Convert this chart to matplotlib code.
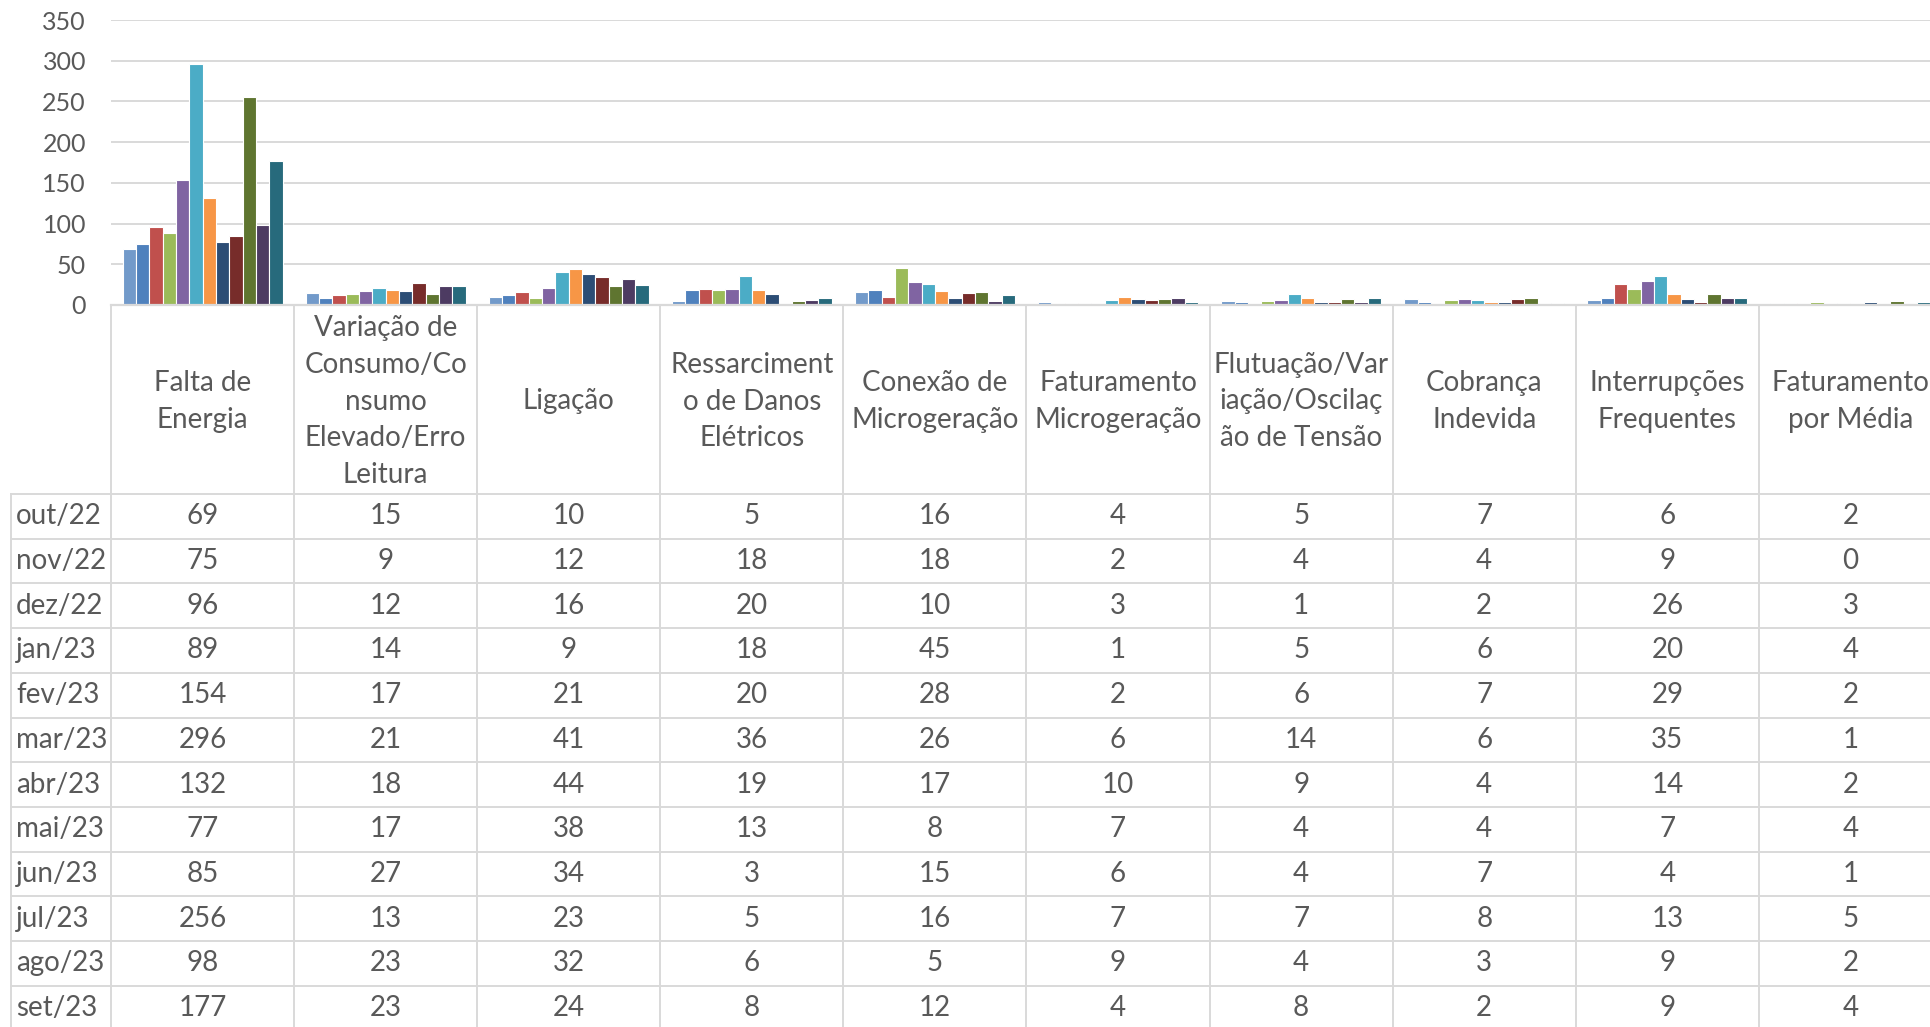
import matplotlib.pyplot as plt
import numpy as np

plt.rcParams['font.family'] = ['Lato', 'DejaVu Sans']

months = ['out/22', 'nov/22', 'dez/22', 'jan/23', 'fev/23', 'mar/23',
          'abr/23', 'mai/23', 'jun/23', 'jul/23', 'ago/23', 'set/23']

categories = ['Falta de\nEnergia',
              'Variação de\nConsumo/Co\nnsumo\nElevado/Erro\nLeitura',
              'Ligação',
              'Ressarciment\no de Danos\nElétricos',
              'Conexão de\nMicrogeração',
              'Faturamento\nMicrogeração',
              'Flutuação/Var\niação/Oscilaç\não de Tensão',
              'Cobrança\nIndevida',
              'Interrupções\nFrequentes',
              'Faturamento\npor Média']

# one list per category, values per month (out/22 .. set/23)
falta_energia = [69, 75, 96, 89, 154, 296, 132, 77, 85, 256, 98, 177]
variacao_consumo = [15, 9, 12, 14, 17, 21, 18, 17, 27, 13, 23, 23]
ligacao = [10, 12, 16, 9, 21, 41, 44, 38, 34, 23, 32, 24]
ressarcimento = [5, 18, 20, 18, 20, 36, 19, 13, 3, 5, 6, 8]
conexao_micro = [16, 18, 10, 45, 28, 26, 17, 8, 15, 16, 5, 12]
faturamento_micro = [4, 2, 3, 1, 2, 6, 10, 7, 6, 7, 9, 4]
flutuacao_tensao = [5, 4, 1, 5, 6, 14, 9, 4, 4, 7, 4, 8]
cobranca_indevida = [7, 4, 2, 6, 7, 6, 4, 4, 7, 8, 3, 2]
interrupcoes = [6, 9, 26, 20, 29, 35, 14, 7, 4, 13, 9, 9]
faturamento_media = [2, 0, 3, 4, 2, 1, 2, 4, 1, 5, 2, 4]

series = [falta_energia, variacao_consumo, ligacao, ressarcimento, conexao_micro,
          faturamento_micro, flutuacao_tensao, cobranca_indevida, interrupcoes,
          faturamento_media]
values = np.array(series)  # shape (category, month)

colors = ['#729ACA', '#4F81BD', '#C0504D', '#9BBB59', '#8064A2', '#4BACC6',
          '#F79646', '#2C4D75', '#772C2A', '#5F7530', '#4D3B62', '#276A7C']

W, H = 1931, 1027
left, axis_y, top = 111, 305, 20
cat_w = 183.1
header_bottom = 494
row_h = 44.7
txt = '#595959'
line_c = '#D9D9D9'
fs = 20

fig = plt.figure(figsize=(W / 100, H / 100), dpi=100)
ncat = len(categories)
ax = fig.add_axes([left / W, 1 - axis_y / H, ncat * cat_w / W, (axis_y - top) / H])

bar_w = 0.0728
x = np.arange(ncat) + 0.5
for j, m in enumerate(months):
    ax.bar(x + (j - 5.5) * bar_w, values[:, j], width=bar_w, color=colors[j],
           edgecolor='white', linewidth=0.8, zorder=3)

ax.set_xlim(0, ncat)
ax.set_ylim(0, 350)
ax.set_yticks(range(0, 351, 50))
ax.set_xticks([])
ax.grid(axis='y', color=line_c, linewidth=1.4, zorder=0)
ax.tick_params(axis='y', length=0, pad=18, labelsize=18, labelcolor=txt)
for s in ['top', 'right', 'left']:
    ax.spines[s].set_visible(False)
ax.spines['bottom'].set_color(line_c)
ax.spines['bottom'].set_linewidth(1.6)
ax.spines['bottom'].set_zorder(4)

# data table below the chart, in pixel coordinates
tab = fig.add_axes([0, 0, 1, 1])
tab.set_xlim(0, W)
tab.set_ylim(H, 0)
tab.axis('off')

right = left + ncat * cat_w
bottom = header_bottom + len(months) * row_h
for i in range(ncat + 1):
    tab.plot([left + i * cat_w] * 2, [axis_y, bottom], color=line_c, lw=1.4)
tab.plot([11, 11], [header_bottom, bottom], color=line_c, lw=1.4)
for r in range(len(months) + 1):
    yy = header_bottom + r * row_h
    tab.plot([11, right], [yy, yy], color=line_c, lw=1.4)

for i, c in enumerate(categories):
    cx = left + (i + 0.5) * cat_w
    tab.text(cx, (axis_y + header_bottom) / 2 + 2, c, ha='center', va='center',
             fontsize=fs, color=txt, linespacing=1.52)
    for r in range(len(months)):
        cy = header_bottom + (r + 0.5) * row_h
        tab.text(cx, cy, str(values[i, r]), ha='center', va='center',
                 fontsize=fs, color=txt)

for r, m in enumerate(months):
    cy = header_bottom + (r + 0.5) * row_h
    tab.text(16, cy, m, ha='left', va='center', fontsize=fs, color=txt)

plt.savefig('out.png', dpi=100)
plt.close()
